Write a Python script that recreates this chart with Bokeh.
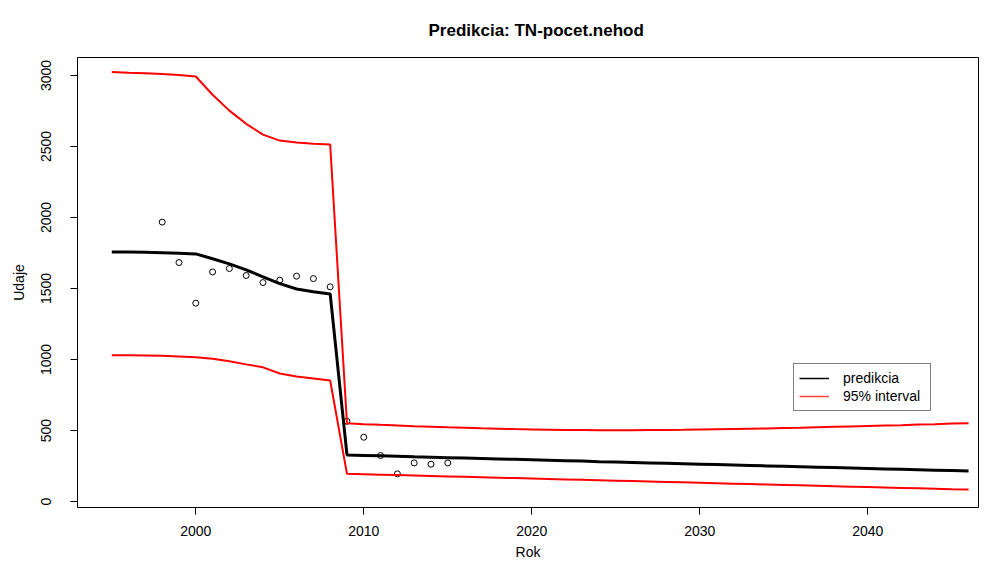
from bokeh.plotting import figure
from bokeh.models import Range1d, FixedTicker, Legend, LegendItem, Title
from bokeh.embed import file_html
from bokeh.resources import INLINE

# ---- data ----
years = list(range(1995, 2047))
predikcia = [1758, 1757, 1756, 1752, 1748, 1744, 1710, 1674, 1632, 1582, 1535, 1497, 1478, 1462, 328,
             325, 322, 319, 315, 312, 309, 306, 303, 300, 297, 294, 291, 288, 285, 281, 278, 275, 272,
             269, 266, 263, 260, 257, 254, 251, 248, 245, 242, 239, 236, 233, 230, 227, 224, 221, 218, 215]
upper = [3025, 3020, 3016, 3010, 3003, 2993, 2865, 2753, 2660, 2584, 2542, 2528, 2519, 2514, 551,
         545, 540, 536, 531, 527, 523, 520, 516, 513, 510, 508, 506, 504, 503, 502, 502, 502, 503,
         504, 505, 507, 509, 511, 513, 515, 518, 520, 523, 526, 529, 532, 535, 538, 542, 545, 549, 552]
lower = [1030, 1030, 1029, 1027, 1022, 1016, 1005, 988, 966, 945, 902, 880, 866, 852, 195,
         192, 189, 186, 183, 180, 177, 174, 171, 168, 165, 162, 159, 156, 153, 150, 147, 144, 141,
         138, 135, 132, 129, 126, 123, 120, 117, 114, 111, 108, 105, 102, 99, 96, 93, 90, 87, 85]
obs_years = list(range(1998, 2016))
obs_values = [1968, 1683, 1397, 1617, 1641, 1592, 1542, 1559, 1587, 1570, 1512, 565, 453, 324, 195, 272, 263, 272]
x_ticks = [2000, 2010, 2020, 2030, 2040]
y_ticks = [0, 500, 1000, 1500, 2000, 2500, 3000]
title_text = "Predikcia: TN-pocet.nehod"

FONT = "Liberation Sans"
X0, X1 = 1992.96, 2046.59
Y0, Y1 = -42, 3127

p = figure(width=979, height=562, output_backend="svg", toolbar_location=None,
           x_range=Range1d(X0, X1), y_range=Range1d(Y0, Y1), title=None,
           min_border_left=77, min_border_right=1, min_border_top=57, min_border_bottom=55)

p.add_layout(Title(text=title_text, align="left", offset=351, vertical_align="bottom",
                   standoff=36, text_font=FONT, text_font_size="17px",
                   text_font_style="bold", text_color="black"), "above")

p.xgrid.visible = False
p.ygrid.visible = False
p.outline_line_color = "black"
p.outline_line_width = 1
p.background_fill_color = "white"
p.border_fill_color = "white"

for ax in (p.xaxis[0], p.yaxis[0]):
    ax.axis_line_color = None
    ax.major_tick_line_color = "black"
    ax.major_tick_out = 7
    ax.major_tick_in = 0
    ax.minor_tick_line_color = None
    ax.major_label_text_font = FONT
    ax.major_label_text_font_size = "14px"
    ax.major_label_text_color = "black"
    ax.axis_label_text_font = FONT
    ax.axis_label_text_font_size = "14px"
    ax.axis_label_text_font_style = "normal"
    ax.axis_label_text_color = "black"

p.xaxis.ticker = FixedTicker(ticks=x_ticks)
p.yaxis.ticker = FixedTicker(ticks=y_ticks)
p.xaxis.axis_label = "Rok"
p.yaxis.axis_label = "Udaje"
p.xaxis.major_label_standoff = 11
p.xaxis.axis_label_standoff = 5
p.yaxis.major_label_orientation = "vertical"
p.yaxis.major_label_standoff = 19
p.yaxis.axis_label_standoff = 12

# observed points
p.scatter(obs_years, obs_values, marker="circle", size=6, fill_color=None,
          line_color="black", line_width=1)

# lines
p.line(years, predikcia, line_color="black", line_width=3)
p.line(years, upper, line_color="red", line_width=2)
p.line(years, lower, line_color="red", line_width=2)

# legend proxies (drawn outside the visible range)
r_leg_black = p.line([1900, 1901], [0, 0], line_color="black", line_width=1.5)
r_leg_red = p.line([1900, 1901], [0, 0], line_color="red", line_width=1.5, line_alpha=0.75)

legend = Legend(items=[LegendItem(label="predikcia", renderers=[r_leg_black]),
                       LegendItem(label="95% interval", renderers=[r_leg_red])],
                location=(716, 96), orientation="vertical",
                border_line_color="black", border_line_width=1,
                background_fill_color="white", background_fill_alpha=1,
                padding=5, spacing=0, margin=0,
                glyph_width=30, glyph_height=18, label_height=18, label_width=82,
                label_standoff=14,
                label_text_font=FONT, label_text_font_size="14px", label_text_color="black")
p.add_layout(legend, "center")

open("out.html", "w").write(file_html(p, INLINE))
